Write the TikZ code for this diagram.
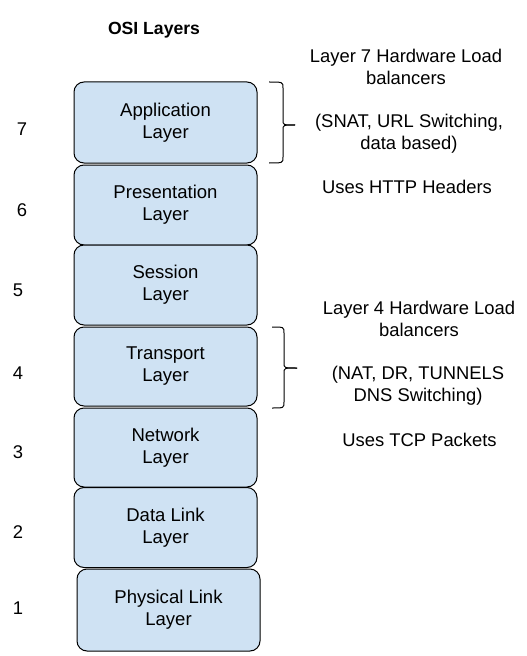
\documentclass[tikz,border=0pt]{standalone}
\usepackage{fontspec}
\setmainfont{Liberation Sans}
\definecolor{layerfill}{HTML}{CFE2F3}
\begin{document}
\begin{tikzpicture}[x=0.75pt,y=-0.75pt,
  layer/.style={draw=black, line width=0.75pt, fill=layerfill, rounded corners=7.5pt,
    minimum width=183*0.75pt, align=center, inner sep=0pt,
    font=\fontsize{13.9pt}{16.5pt}\selectfont},
  txt/.style={align=center, inner sep=0pt, font=\fontsize{13.8pt}{16.5pt}\selectfont},
  brace/.style={draw=black, line width=0.75pt}]
\useasboundingbox (0,0) rectangle (527,656);
\node[txt, font=\bfseries\fontsize{13.2pt}{16.5pt}\selectfont] (title) at (154,30) {OSI Layers};

\node[layer, minimum height=81*0.75pt] (app) at (165.5,122.5) {Application\\Layer};
\node[layer, minimum height=80*0.75pt] (pres) at (165.5,205) {Presentation\\Layer};
\node[layer, minimum height=80*0.75pt] (sess) at (165.5,285) {Session\\Layer};
\node[layer, minimum height=79*0.75pt] (trans) at (165.5,366.5) {Transport\\Layer};
\node[layer, minimum height=79*0.75pt] (net) at (165.5,447.5) {Network\\Layer};
\node[layer, minimum height=80*0.75pt] (dl) at (165.5,527.5) {Data Link\\Layer};
\node[layer, minimum height=82*0.75pt] (phys) at (168.5,610) {Physical Link\\Layer};

\node[txt] (n7) at (22,129) {7};
\node[txt] (n6) at (22,210) {6};
\node[txt] (n5) at (18,290) {5};
\node[txt] (n4) at (18,373) {4};
\node[txt] (n3) at (18,452) {3};
\node[txt] (n2) at (18,532) {2};
\node[txt] (n1) at (18,608) {1};

\node[txt] (l7a) at (406,67) {Layer 7 Hardware Load\\balancers};
\node[txt] (l7b) at (409,133.5) {(SNAT, URL Switching,\\data based)};
\node[txt] (l7c) at (407,187) {Uses HTTP Headers};
\node[txt] (l4a) at (419,319) {Layer 4 Hardware Load\\balancers};
\node[txt] (l4b) at (418,386) {(NAT, DR, TUNNELS\\DNS Switching)};
\node[txt] (l4c) at (419.5,440) {Uses TCP Packets};

\coordinate (b7t) at (269,82);
\coordinate (b7tip) at (295,125);
\coordinate (b7b) at (269,163);
\draw[brace] (b7t) .. controls (283,82) .. (283,88) -- (283,120) .. controls (283,125) .. (b7tip);
\draw[brace] (b7tip) .. controls (283,125) .. (283,130) -- (283,157) .. controls (283,163) .. (b7b);

\coordinate (b4t) at (272,327);
\coordinate (b4tip) at (297,368);
\coordinate (b4b) at (272,408);
\draw[brace] (b4t) .. controls (284,327) .. (284,333) -- (284,363) .. controls (284,368) .. (b4tip);
\draw[brace] (b4tip) .. controls (284,368) .. (284,373) -- (284,402) .. controls (284,408) .. (b4b);
\end{tikzpicture}
\end{document}
